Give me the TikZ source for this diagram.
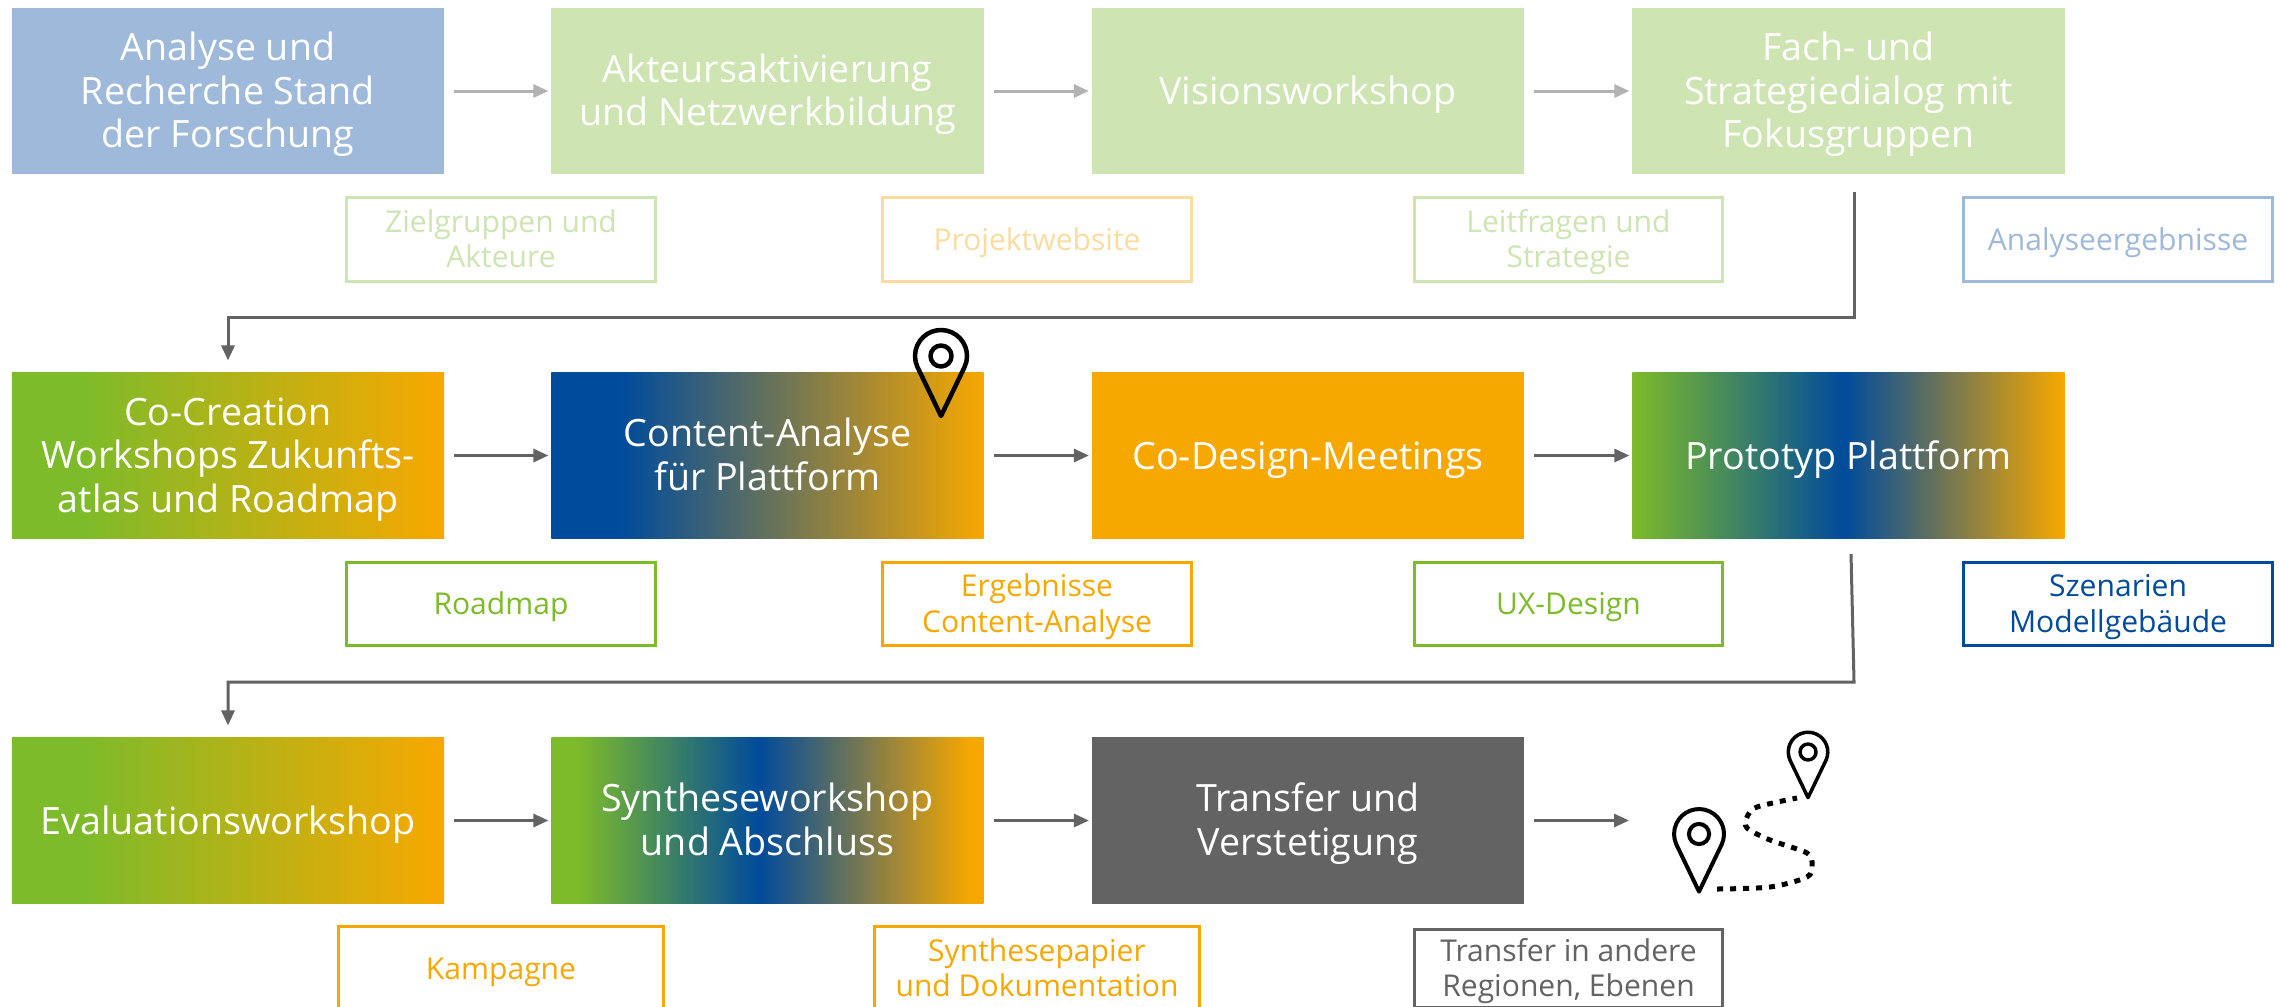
\documentclass[tikz,border=0pt]{standalone}
\usepackage{fontspec}
\setmainfont{Open Sans}
\usetikzlibrary{arrows.meta}
\definecolor{cgreen}{HTML}{7DBB2A}
\definecolor{corange}{HTML}{F7A800}
\definecolor{cblue}{HTML}{004B9C}
\definecolor{cgray}{HTML}{636363}
\definecolor{cpale}{HTML}{CEE4B2}
\definecolor{csky}{HTML}{9EB9D9}
\definecolor{cpaleorange}{HTML}{FBDCA0}
\definecolor{carrow}{HTML}{B2B2B2}
\pgfdeclarehorizontalshading{greenorange}{100bp}{color(0bp)=(cgreen); color(33bp)=(cgreen); color(74.5bp)=(corange); color(100bp)=(corange)}
\pgfdeclarehorizontalshading{blueorange}{100bp}{color(0bp)=(cblue); color(33bp)=(cblue); color(75bp)=(corange); color(100bp)=(corange)}
\pgfdeclarehorizontalshading{greenblueorange}{100bp}{color(0bp)=(cgreen); color(25bp)=(cgreen); color(49.5bp)=(cblue); color(75bp)=(corange); color(100bp)=(corange)}
\pgfdeclarehorizontalshading{synthshade}{100bp}{color(0bp)=(cgreen); color(28bp)=(cgreen); color(49bp)=(cblue); color(73.5bp)=(corange); color(100bp)=(corange)}
\newcommand{\topgap}{\rule{0pt}{1em}}
\tikzset{
    stepbox/.style={minimum width=4.32cm, minimum height=1.66cm, inner sep=0pt, outer sep=0pt, align=center, text=white, font=\fontsize{10.7}{12.4}\selectfont,
        execute at begin node={\rule{0pt}{11pt}}, execute at end node={\rule[-3.2pt]{0pt}{0pt}}},
    outbox/.style={draw=#1, text=#1, line width=0.03cm, minimum width=3.08cm, minimum height=0.83cm, inner sep=0pt, align=center, font=\fontsize{8.55}{10}\selectfont,
        execute at begin node={\rule{0pt}{8.6pt}}, execute at end node={\rule[-2.6pt]{0pt}{0pt}}},
    widebox/.style={minimum width=3.25cm},
    flowline/.style={draw=cgray, line width=0.03cm, -{Triangle[length=0.15cm,width=0.13cm]}},
    palearrow/.style={flowline, draw=carrow},
    pinline/.style={draw=black, line width=#1, line join=round},
    locpin/.pic={
        \draw[pic actions] (0,-60) -- (-24.6:26) arc[start angle=-24.6, end angle=204.6, radius=26] -- cycle;
        \draw[pic actions] (0,0) circle[radius=10.5];
    },
}
\begin{document}
\begin{tikzpicture}[x=0.01cm,y=0.01cm]
\clip (0,0) rectangle (2280,-1006);
\fill[white] (0,0) rectangle (2280,-1006);

% first row
\node[stepbox, fill=csky] (analyse) at (228,-91) {\topgap Analyse und\\Recherche Stand\\der Forschung};
\node[stepbox, fill=cpale] (akteure) at (767.5,-91) {\topgap Akteursaktivierung\\und Netzwerkbildung};
\node[stepbox, fill=cpale] (vision) at (1308,-91) {Visionsworkshop};
\node[stepbox, fill=cpale] (fachdialog) at (1848.5,-91) {\topgap Fach- und\\Strategiedialog mit\\Fokusgruppen};

\node[outbox=cpale] (zielgruppen) at (501,-239.5) {\topgap Zielgruppen und\\Akteure};
\node[outbox=cpaleorange] (website) at (1037,-239.5) {Projektwebsite};
\node[outbox=cpale] (leitfragen) at (1568.5,-239.5) {\topgap Leitfragen und\\Strategie};
\node[outbox=csky] (analyseerg) at (2118,-239.5) {Analyseergebnisse};

% second row
\node[stepbox, shade, shading=greenorange] (cocreation) at (228,-455.5) {\topgap Co-Creation\\Workshops Zukunfts-\\atlas und Roadmap};
\node[stepbox, shade, shading=blueorange] (content) at (767.5,-455.5) {\topgap Content-Analyse\\für Plattform};
\node[stepbox, fill=corange] (codesign) at (1308,-455.5) {Co-Design-Meetings};
\node[stepbox, shade, shading=greenblueorange] (prototyp) at (1848.5,-455.5) {Prototyp Plattform};

\node[outbox=cgreen] (roadmap) at (501,-604) {Roadmap};
\node[outbox=corange] (ergebnisse) at (1037,-604) {\topgap Ergebnisse\\Content-Analyse};
\node[outbox=cgreen] (uxdesign) at (1568.5,-604) {UX-Design};
\node[outbox=cblue] (szenarien) at (2118,-604) {\topgap Szenarien\\Modellgebäude};

% third row
\node[stepbox, shade, shading=greenorange] (evaluation) at (228,-820.5) {Evaluationsworkshop};
\node[stepbox, shade, shading=synthshade] (synthese) at (767.5,-820.5) {\topgap Syntheseworkshop\\und Abschluss};
\node[stepbox, fill=cgray] (transfer) at (1308,-820.5) {\topgap Transfer und\\Verstetigung};

\node[outbox=corange, widebox] (kampagne) at (501,-968.5) {Kampagne};
\node[outbox=corange, widebox] (synthesepapier) at (1037,-968.5) {\topgap Synthesepapier\\und Dokumentation};
\node[outbox=cgray, minimum height=0.77cm] (transferbox) at (1568.5,-968.5) {\topgap Transfer in andere\\Regionen, Ebenen};

% arrows between the steps
\foreach \a/\b in {analyse/akteure,akteure/vision,vision/fachdialog}
    \draw[palearrow, shorten <=0.1cm, shorten >=0.03cm] (\a) -- (\b);
\foreach \a/\b in {cocreation/content,content/codesign,codesign/prototyp,evaluation/synthese,synthese/transfer}
    \draw[flowline, shorten <=0.1cm, shorten >=0.03cm] (\a) -- (\b);

\coordinate (bendA) at (1854,-317);
\coordinate (startA) at (1854,-192);
\draw[flowline, shorten >=0.12cm] (startA) -- (bendA) -- (bendA -| cocreation) -- (cocreation.north);
\coordinate (bendB) at (1854,-682);
\coordinate (startB) at (1851,-554);
\draw[flowline, shorten >=0.12cm] (startB) -- (bendB) -- (bendB -| evaluation) -- (evaluation.north);
\coordinate (routeEnd) at (1629,-820.5);
\draw[flowline, shorten <=0.1cm] (transfer) -- (routeEnd);

% route with pins
\pic[pinline=0.045cm] at (941,-356) {locpin};
\pic[pinline=0.04cm, scale=0.96] at (1699,-834) {locpin};
\pic[pinline=0.035cm, scale=0.76] at (1808,-752) {locpin};
\draw[line width=0.05cm, dash pattern=on 0.06cm off 0.07cm] plot[smooth] coordinates {(1717,-889) (1770,-887) (1807,-877) (1812,-865) (1807,-853) (1770,-840) (1747,-828) (1747,-817) (1757,-807) (1797,-798)};
\end{tikzpicture}
\end{document}
